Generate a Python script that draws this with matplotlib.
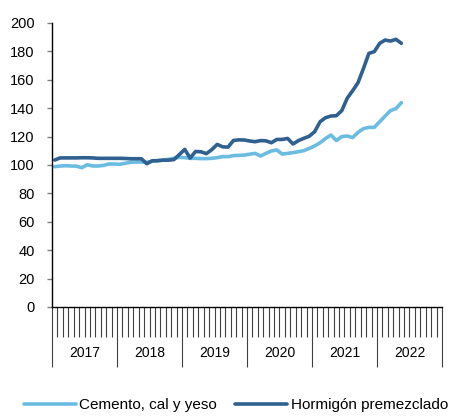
import matplotlib.pyplot as plt
import matplotlib.transforms as mtransforms
import numpy as np

plt.rcParams['font.family'] = ['Liberation Sans', 'DejaVu Sans']

# monthly index, Jan 2017 .. May 2022
years = ["2017", "2018", "2019", "2020", "2021", "2022"]
cemento = [98.8, 99.3, 99.5, 99.3, 99.2, 98.1, 100.2, 99.3, 99.3, 99.7,
           100.7, 100.7, 100.5, 101.2, 101.9, 102.1, 102.1, 101.9, 102.6, 103.1,
           103.5, 104.0, 104.7, 105.4, 105.2, 104.7, 104.7, 104.5, 104.5, 104.7,
           105.2, 105.9, 105.9, 106.6, 106.8, 107.0, 107.6, 108.2, 106.3, 108.2,
           109.9, 110.6, 107.7, 108.2, 108.7, 109.4, 110.1, 111.7, 113.4, 115.7,
           118.7, 121.1, 117.2, 120.0, 120.4, 119.3, 123.0, 125.6, 126.5, 126.5,
           130.5, 134.5, 138.3, 139.7, 143.9]
hormigon = [103.5, 105.0, 105.0, 105.0, 105.0, 105.1, 105.1, 105.0, 104.7, 104.7,
            104.7, 104.7, 104.7, 104.6, 104.4, 104.4, 104.4, 100.9, 103.0, 103.0,
            103.4, 103.4, 103.8, 107.3, 111.0, 104.9, 109.5, 109.3, 108.0, 110.8,
            114.5, 112.8, 112.6, 117.3, 117.7, 117.6, 116.9, 116.4, 117.2, 117.0,
            115.7, 118.0, 118.0, 118.7, 114.8, 117.2, 118.8, 120.3, 123.5, 130.5,
            133.3, 134.5, 134.7, 138.3, 147.0, 152.3, 158.0, 168.0, 178.6, 179.8,
            185.7, 188.0, 187.3, 188.5, 185.7]

x = np.arange(len(cemento))

fig = plt.figure(figsize=(4.53, 4.16), dpi=100)
ax = fig.add_axes([52/453, 1 - 307/416, 390/453, 284/416])

ax.plot(x, cemento, color="#6ABDE1", lw=2.6, label="Cemento, cal y yeso",
        solid_capstyle="round")
ax.plot(x, hormigon, color="#30608F", lw=2.6, label="Hormigón premezclado",
        solid_capstyle="round")

ax.set_xlim(-0.5, 71.5)
ax.set_ylim(0, 200)
ax.set_yticks(np.arange(0, 201, 20))
ax.tick_params(axis='y', direction='out', length=3.5, width=1, color="#7f7f7f",
               labelsize=10.5, pad=9)

# month ticks and year separators
ax.set_xticks(np.arange(-0.5, 72, 12))
ax.set_xticks(np.arange(-0.5, 72, 1), minor=True)
ax.set_xticklabels([])
ax.tick_params(axis='x', which='major', direction='out', length=43, width=0.8,
               color="#404040")
ax.tick_params(axis='x', which='minor', direction='out', length=21.5, width=0.8,
               color="#404040")

trans = mtransforms.blended_transform_factory(ax.transData, ax.transAxes)
for k, yr in enumerate(years):
    ax.text(12 * k + 5.5, -46/284, yr, transform=trans, ha='center', va='center',
            fontsize=10)

for s in ['top', 'right']:
    ax.spines[s].set_visible(False)
ax.spines['left'].set_linewidth(1)
ax.spines['bottom'].set_linewidth(1)

fig.legend(loc='center', bbox_to_anchor=(236/453, 1 - 405/416), ncol=2, frameon=False,
           fontsize=11, handlelength=3.4, handletextpad=0.25, columnspacing=1.2)

fig.savefig("out.png", dpi=100)
